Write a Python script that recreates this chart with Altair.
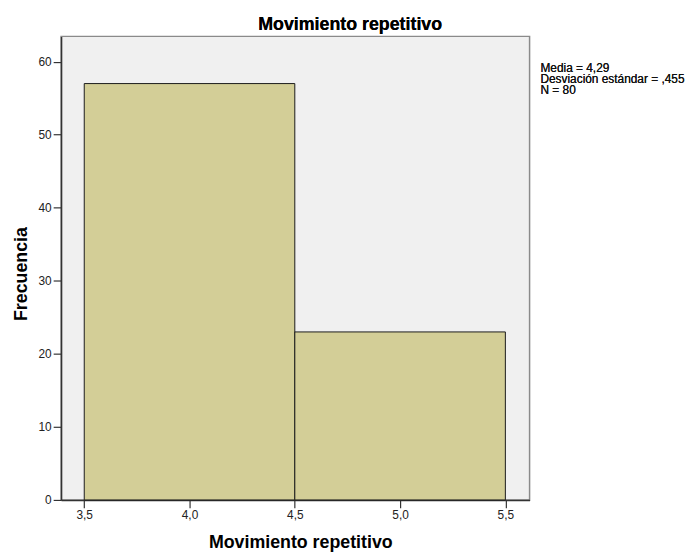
import altair as alt
import pandas as pd

bin_start = [3.5, 4.5]
bin_end = [4.5, 5.5]
counts = [57, 23]
x_ticks = [3.5, 4.0, 4.5, 5.0, 5.5]
y_ticks = [0, 10, 20, 30, 40, 50, 60]
stats_lines = ["Media = 4,29", "Desviación estándar = ,455", "N = 80"]
title_text = "Movimiento repetitivo"
x_title = "Movimiento repetitivo"
y_title = "Frecuencia"

df = pd.DataFrame({"start": bin_start, "end": bin_end, "count": counts})

FONT = "Liberation Sans"
W, H = 474, 469

bars = alt.Chart(df).mark_rect(
    fill="#d3ce97", stroke="#1a1a1a", strokeWidth=1
).encode(
    x=alt.X("start:Q",
            scale=alt.Scale(domain=[3.39, 5.615], nice=False, zero=False),
            axis=alt.Axis(values=x_ticks, title=x_title,
                          labelExpr="replace(format(datum.value, '.1f'), '.', ',')",
                          grid=False, tickSize=8, labelPadding=2,
                          domainColor="#333333", domainWidth=1.5,
                          tickColor="#333333", tickWidth=1.2,
                          labelFont=FONT, labelFontSize=12, labelColor="#222222",
                          titleFont=FONT, titleFontSize=18, titleFontWeight="bold",
                          titleColor="#000000", titleX=242, titleY=48.3,
                          titleBaseline="alphabetic", titleAnchor="middle", titleAlign="center")),
    x2="end:Q",
    y=alt.Y("count:Q",
            scale=alt.Scale(domain=[0, 63.46], nice=False),
            axis=alt.Axis(values=y_ticks, title=y_title, format="d",
                          grid=False, tickSize=8, labelPadding=2,
                          domainColor="#333333", domainWidth=1.5,
                          tickColor="#333333", tickWidth=1.2,
                          labelFont=FONT, labelFontSize=12, labelColor="#222222",
                          titleFont=FONT, titleFontSize=18, titleFontWeight="bold",
                          titleColor="#000000", titleX=-35, titleY=240,
                          titleAngle=-90, titleBaseline="alphabetic", titleAlign="center")),
    y2=alt.datum(0),
)

stats = alt.Chart(df).mark_text(
    text=stats_lines, align="left", baseline="alphabetic",
    font=FONT, fontSize=12, lineHeight=11, color="#111111"
).encode(x=alt.value(485), y=alt.value(36.5))

title = alt.Chart(df).mark_text(
    text=title_text, align="center", baseline="alphabetic",
    font=FONT, fontSize=18, fontWeight="bold", color="#000000"
).encode(x=alt.value(292.5), y=alt.value(-6.8))

chart = alt.layer(bars, stats, title).properties(
    width=W, height=H,
    autosize="none",
    padding={"left": 53.7, "top": 25.5, "right": 162.3, "bottom": 53.5},
).configure_view(
    fill="#f0f0f0", stroke="#8a8a8a", strokeWidth=1.5
)

chart.save("out.html", embed_options={"renderer": "svg", "actions": False})
